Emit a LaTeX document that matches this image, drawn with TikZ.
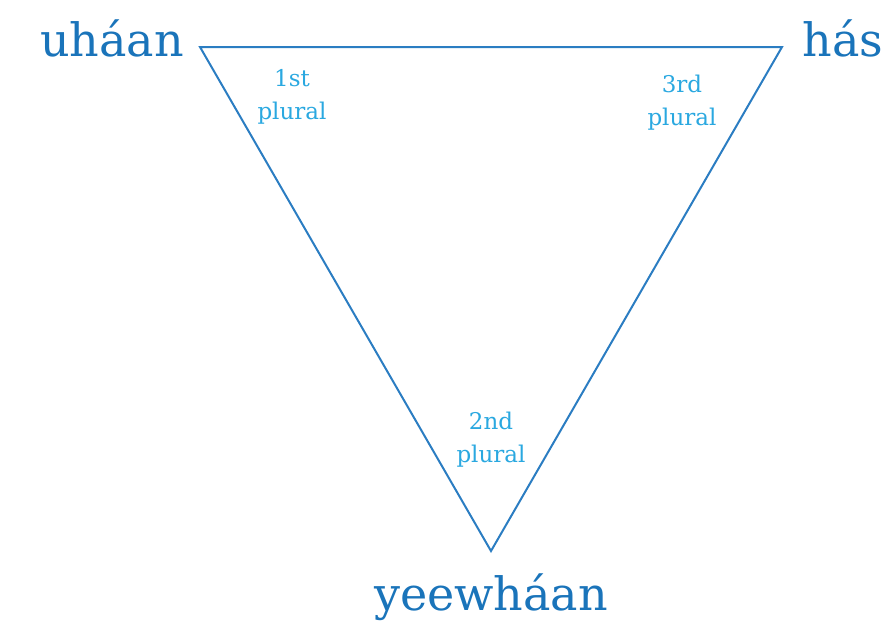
\documentclass[tikz,border=0pt]{standalone}
\usepackage{fontspec}
\setmainfont{DejaVu Serif}
\definecolor{dark}{HTML}{1A74BA}
\definecolor{light}{HTML}{2AA8E0}
\definecolor{edge}{HTML}{2B7DC2}
\begin{document}
\begin{tikzpicture}[x=1pt,y=-1pt,
  big/.style={text=dark,font=\fontsize{46}{46}\selectfont,inner sep=0pt,anchor=base},
  small/.style={text=light,font=\fontsize{23}{33}\selectfont,inner sep=0pt,align=center,anchor=north},
  tri/.style={draw=edge,line width=2pt,line join=miter}]
\useasboundingbox (0,0) rectangle (892,632);
\coordinate (A) at (200,47);
\coordinate (B) at (782,47);
\coordinate (C) at (491,551);
\draw[tri] (A) -- (B) -- (C) -- cycle;
\node[big] (ua) at (112,56) {uháan};
\node[big] (ha) at (843,56) {hás};
\node[big] (ye) at (491,610) {yeewháan};
\node[small] (p1) at (292,69) {1st\\plural};
\node[small] (p3) at (682,75) {3rd\\plural};
\node[small] (p2) at (491,412) {2nd\\plural};
\end{tikzpicture}
\end{document}
